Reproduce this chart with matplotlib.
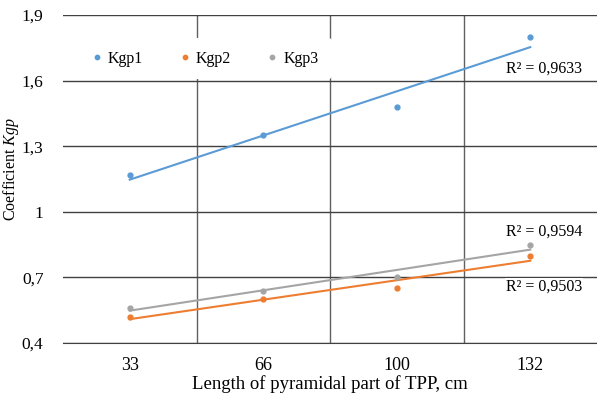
import numpy as np
import matplotlib
matplotlib.use("Agg")
import matplotlib.pyplot as plt

plt.rcParams['font.family'] = ['Liberation Serif', 'DejaVu Serif']
plt.rcParams['mathtext.fontset'] = 'custom'
plt.rcParams['mathtext.rm'] = 'Liberation Serif'
plt.rcParams['mathtext.it'] = 'Liberation Serif:italic'

categories = ["33", "66", "100", "132"]
kgp1 = [1.17, 1.35, 1.48, 1.80]
kgp2 = [0.52, 0.60, 0.65, 0.80]
kgp3 = [0.56, 0.64, 0.70, 0.85]
series_names = ["Kgp1", "Kgp2", "Kgp3"]
r2_labels = ["R² = 0,9633", "R² = 0,9503", "R² = 0,9594"]
yticks = [0.4, 0.7, 1.0, 1.3, 1.6, 1.9]
ytick_labels = ["0,4", "0,7", "1", "1,3", "1,6", "1,9"]

colors = ["#5B9BD5", "#ED7D31", "#A5A5A5"]

fig = plt.figure(figsize=(5.97, 3.97), dpi=100)
ax = fig.add_axes([63/597, 1-343/397, 1-63/597, (343-15)/397])

x = np.arange(1, len(categories) + 1)
all_series = [kgp1, kgp2, kgp3]
label_pos = [(4.39, 1.653), (4.39, 0.656), (4.39, 0.908)]

for vals, name, c, r2, (lx, ly) in zip(all_series, series_names, colors, r2_labels, label_pos):
    vals = np.array(vals)
    ax.plot(x, vals, 'o', color=c, markersize=3.5, label=name, zorder=4)
    p = np.polyfit(x, vals, 1)
    ax.plot(x, np.polyval(p, x), '-', color=c, lw=1.5, zorder=3)
    ax.text(lx, ly, r2, ha='right', va='center', fontsize=11.5,
            bbox=dict(facecolor='white', edgecolor='none', pad=0.5), zorder=5)

ax.set_xlim(0.5, len(categories) + 0.5)
ax.set_ylim(0.4, 1.9)
ax.set_xticks(x)
ax.set_xticklabels(categories, fontsize=13)
ax.set_yticks(yticks)
ax.set_yticklabels(ytick_labels, fontsize=12.5)
ax.set_xticks(np.arange(1.5, len(categories), 1.0), minor=True)
ax.tick_params(axis='both', which='both', length=0)
ax.tick_params(axis='x', pad=10)
ax.tick_params(axis='y', pad=14)

ax.grid(axis='y', which='major', color='#404040', lw=1.0, zorder=1)
ax.grid(axis='x', which='minor', color='#606060', lw=1.0, zorder=1)
for s in ['top', 'right', 'left']:
    ax.spines[s].set_visible(False)
ax.spines['bottom'].set_color('#404040')

ax.set_xlabel("Length of pyramidal part of TPP, cm", fontsize=13.5, labelpad=1)
ax.set_ylabel(r"Coefficient $\mathit{Kgp}$", fontsize=11.5)
ax.yaxis.set_label_coords(-0.078, 0.53)

leg = ax.legend(loc='upper left', bbox_to_anchor=(0.012, 0.955), ncol=3, fontsize=11.5,
                frameon=True, framealpha=1, edgecolor='none', facecolor='white',
                handlelength=0.8, handletextpad=0.3, columnspacing=2.2,
                borderpad=0.8, markerscale=0.9)
leg.set_zorder(6)

fig.savefig("out.png", dpi=100)
